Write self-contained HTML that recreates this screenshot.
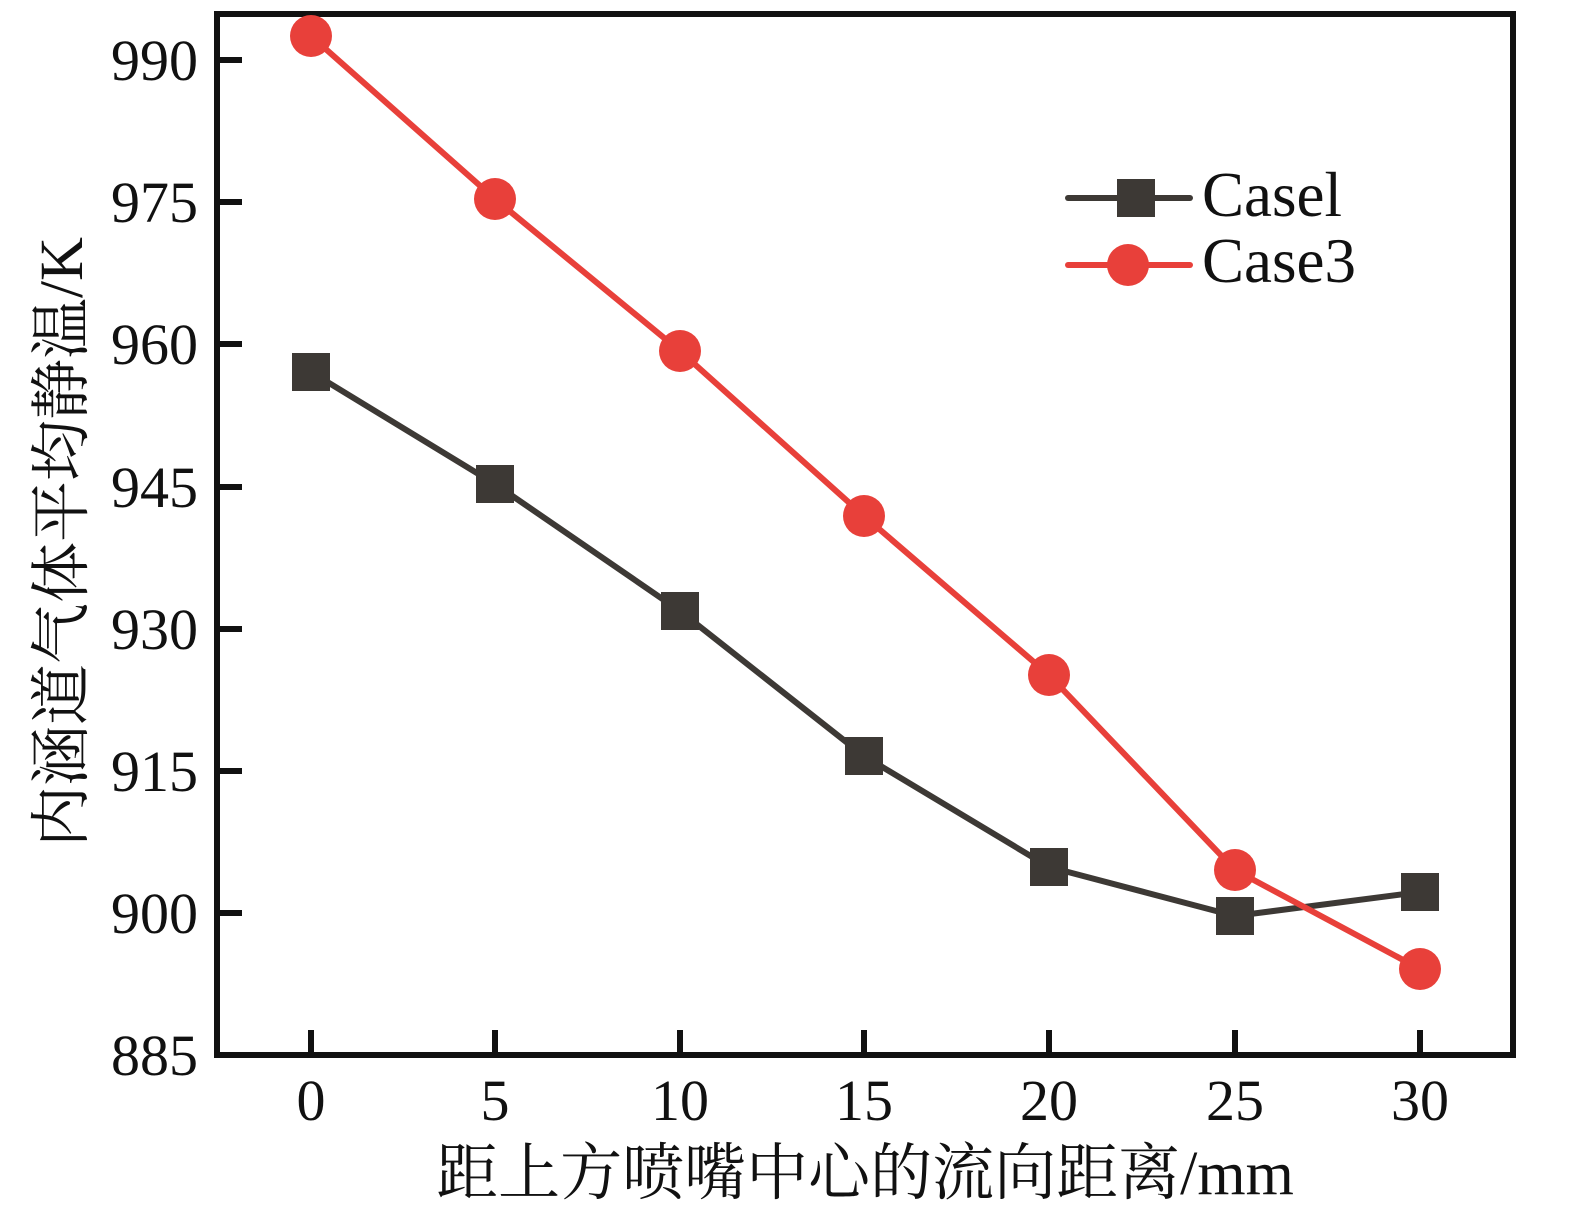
<!DOCTYPE html>
<html><head><meta charset="utf-8"><style>body{margin:0;background:#fff}</style></head><body>
<svg width="1580" height="1225" xmlns="http://www.w3.org/2000/svg" style="display:block">
<g font-family="Liberation Serif, serif" font-size="58" fill="#111">
<g text-anchor="end">
<text x="198" y="80">990</text><text x="198" y="222">975</text><text x="198" y="364">960</text>
<text x="198" y="507">945</text><text x="198" y="649">930</text><text x="198" y="791">915</text>
<text x="198" y="933">900</text><text x="198" y="1075">885</text>
</g>
<g text-anchor="middle">
<text x="311" y="1120">0</text><text x="495" y="1120">5</text><text x="680" y="1120">10</text>
<text x="864" y="1120">15</text><text x="1049" y="1120">20</text><text x="1235" y="1120">25</text><text x="1420" y="1120">30</text>
</g>
<text x="865" y="1194" text-anchor="middle" font-family="Liberation Serif, Noto Serif CJK SC, serif" font-size="62">距上方喷嘴中心的流向距离/mm</text>
<text transform="translate(82,542) rotate(-90)" text-anchor="middle" font-family="Liberation Serif, Noto Serif CJK SC, serif" font-size="61">内涵道气体平均静温/K</text>
<text x="1202" y="216" font-size="63">Casel</text>
<text x="1202" y="282" font-size="63">Case3</text>
</g>
<g stroke="#111" stroke-width="6">
<rect x="217" y="14" width="1296" height="1041" fill="none"/>
<path d="M217 60h25M217 202h25M217 344h25M217 487h25M217 629h25M217 771h25M217 913h25"/>
<path d="M311 1055v-25M495 1055v-25M680 1055v-25M864 1055v-25M1049 1055v-25M1235 1055v-25M1420 1055v-25"/>
</g>
<g fill="#3d3935">
<polyline points="311,372 495,484 680,611 864,756 1049,867 1235,916 1420,892" fill="none" stroke="#3d3935" stroke-width="6"/>
<rect x="292" y="353" width="38" height="38"/><rect x="476" y="465" width="38" height="38"/>
<rect x="661" y="592" width="38" height="38"/><rect x="845" y="737" width="38" height="38"/>
<rect x="1030" y="848" width="38" height="38"/><rect x="1216" y="897" width="38" height="38"/>
<rect x="1401" y="873" width="38" height="38"/>
<line x1="1068" y1="198" x2="1190" y2="198" stroke="#3d3935" stroke-width="6" stroke-linecap="round"/>
<rect x="1117" y="179" width="38" height="38"/>
</g>
<g fill="#e8403a">
<polyline points="311,36 495,199 680,351 864,516 1049,675 1235,870 1420,969" fill="none" stroke="#e8403a" stroke-width="6"/>
<circle cx="311" cy="36" r="21"/><circle cx="495" cy="199" r="21"/><circle cx="680" cy="351" r="21"/>
<circle cx="864" cy="516" r="21"/><circle cx="1049" cy="675" r="21"/><circle cx="1235" cy="870" r="21"/>
<circle cx="1420" cy="969" r="21"/>
<line x1="1068" y1="265" x2="1190" y2="265" stroke="#e8403a" stroke-width="6" stroke-linecap="round"/>
<circle cx="1128" cy="265" r="21"/>
</g>
</svg>
</body></html>
